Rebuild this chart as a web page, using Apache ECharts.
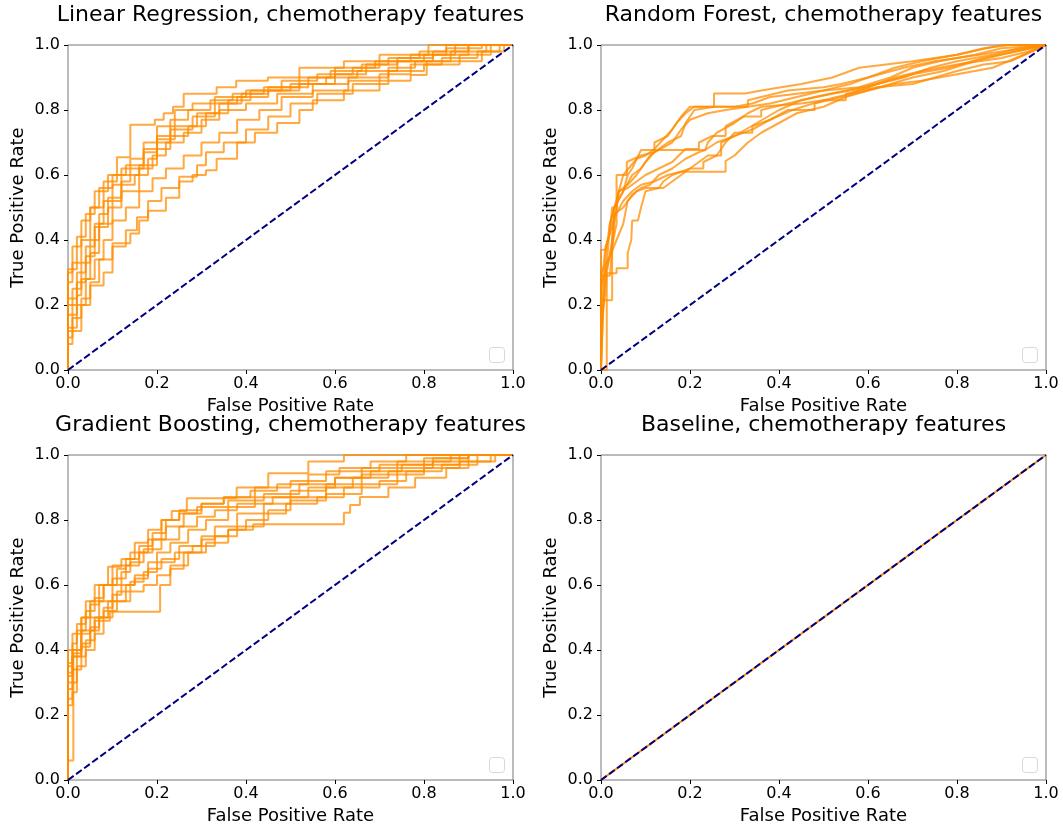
<!DOCTYPE html>
<html>
<head>
<meta charset="utf-8">
<script src="https://cdn.jsdelivr.net/npm/echarts@6/dist/echarts.min.js"></script>
<style>html,body{margin:0;padding:0;background:#fff}#c{width:1063px;height:830px}</style>
</head>
<body>
<div id="c"></div>
<script>
// ---------- DATA ----------
const panelTitles = [
  'Linear Regression, chemotherapy features',
  'Random Forest, chemotherapy features',
  'Gradient Boosting, chemotherapy features',
  'Baseline, chemotherapy features'
];
const xAxisTitle = 'False Positive Rate';
const yAxisTitle = 'True Positive Rate';
const tickValues = [0, 0.2, 0.4, 0.6, 0.8, 1.0];

// Linear Regression ROC curves (step: each point = end of a horizontal run at that TPR)
const lrCurves = [
  [[0,0],[0.02,0.31],[0.04,0.41],[0.06,0.48],[0.09,0.55],[0.11,0.6],[0.14,0.655],[0.195,0.755],[0.215,0.77],[0.236,0.79],[0.26,0.81],[0.334,0.85],[0.378,0.87],[0.449,0.89],[0.52,0.9],[0.62,0.93],[0.7,0.95],[0.81,0.97],[1,1]],
  [[0,0],[0.01,0.27],[0.03,0.33],[0.05,0.4],[0.08,0.5],[0.11,0.58],[0.13,0.6],[0.17,0.63],[0.2,0.68],[0.23,0.72],[0.27,0.77],[0.32,0.8],[0.37,0.83],[0.44,0.85],[0.54,0.87],[0.6,0.9],[0.69,0.93],[0.8,0.95],[0.87,0.97],[1,1]],
  [[0,0],[0.02,0.2],[0.04,0.27],[0.06,0.35],[0.09,0.44],[0.12,0.5],[0.16,0.55],[0.19,0.62],[0.22,0.66],[0.26,0.7],[0.3,0.73],[0.34,0.77],[0.4,0.8],[0.47,0.82],[0.55,0.85],[0.63,0.88],[0.72,0.9],[0.78,0.93],[0.86,0.95],[0.94,0.98],[1,1]],
  [[0,0],[0.01,0.08],[0.03,0.12],[0.05,0.2],[0.08,0.26],[0.1,0.3],[0.14,0.39],[0.16,0.42],[0.18,0.46],[0.22,0.49],[0.25,0.53],[0.28,0.58],[0.31,0.6],[0.334,0.615],[0.38,0.65],[0.42,0.7],[0.47,0.73],[0.52,0.76],[0.55,0.8],[0.62,0.83],[0.7,0.86],[0.77,0.89],[0.806,0.908],[0.93,0.95],[0.98,0.98],[1,1]],
  [[0,0],[0.02,0.17],[0.03,0.23],[0.05,0.28],[0.07,0.36],[0.1,0.45],[0.12,0.52],[0.15,0.57],[0.18,0.6],[0.2,0.65],[0.23,0.68],[0.27,0.72],[0.31,0.75],[0.36,0.79],[0.41,0.83],[0.5,0.86],[0.58,0.88],[0.65,0.9],[0.74,0.92],[0.82,0.95],[0.9,0.97],[1,1]],
  [[0,0],[0.01,0.1],[0.03,0.16],[0.05,0.22],[0.07,0.27],[0.1,0.34],[0.13,0.38],[0.155,0.43],[0.18,0.47],[0.21,0.52],[0.25,0.56],[0.29,0.595],[0.31,0.63],[0.35,0.67],[0.4,0.7],[0.45,0.74],[0.5,0.78],[0.56,0.82],[0.64,0.85],[0.72,0.88],[0.8,0.92],[0.88,0.94],[0.95,0.97],[1,1]],
  [[0,0],[0.02,0.22],[0.04,0.3],[0.06,0.38],[0.08,0.45],[0.1,0.52],[0.12,0.57],[0.16,0.6],[0.2,0.63],[0.23,0.7],[0.28,0.74],[0.33,0.78],[0.38,0.82],[0.45,0.84],[0.52,0.86],[0.6,0.88],[0.67,0.91],[0.74,0.94],[0.82,0.96],[0.9,0.98],[1,1]],
  [[0,0],[0.01,0.12],[0.03,0.25],[0.05,0.33],[0.07,0.4],[0.09,0.48],[0.12,0.53],[0.14,0.58],[0.17,0.62],[0.2,0.67],[0.24,0.71],[0.29,0.75],[0.34,0.79],[0.39,0.82],[0.45,0.85],[0.52,0.87],[0.59,0.9],[0.66,0.92],[0.72,0.94],[0.79,0.96],[0.85,0.98],[1,1]],
  [[0,0],[0.02,0.13],[0.04,0.2],[0.06,0.28],[0.08,0.34],[0.1,0.4],[0.13,0.46],[0.16,0.5],[0.19,0.55],[0.22,0.59],[0.26,0.62],[0.3,0.66],[0.34,0.7],[0.38,0.73],[0.43,0.77],[0.48,0.8],[0.55,0.84],[0.63,0.86],[0.7,0.89],[0.77,0.91],[0.84,0.94],[0.92,0.96],[0.97,0.98],[1,1]],
  [[0,0],[0.01,0.3],[0.03,0.38],[0.05,0.46],[0.07,0.5],[0.1,0.56],[0.12,0.6],[0.14,0.62],[0.17,0.65],[0.2,0.7],[0.24,0.75],[0.28,0.8],[0.33,0.82],[0.4,0.84],[0.48,0.86],[0.56,0.89],[0.64,0.91],[0.7,0.93],[0.77,0.95],[0.85,0.97],[0.93,0.99],[1,1]]
];

// Random Forest ROC curves (polyline vertices)
const rfCurves = [
  [[0,0],[0,0.3],[0.02,0.35],[0.035,0.45],[0.035,0.6],[0.058,0.6],[0.058,0.64],[0.09,0.66],[0.12,0.67],[0.12,0.7],[0.15,0.72],[0.17,0.76],[0.19,0.79],[0.21,0.81],[0.33,0.81],[0.33,0.83],[0.42,0.86],[0.5,0.87],[0.54,0.88],[0.6,0.9],[0.68,0.93],[0.75,0.95],[0.85,0.97],[0.95,0.99],[1,1]],
  [[0,0],[0.005,0.2],[0.01,0.35],[0.02,0.45],[0.03,0.5],[0.05,0.55],[0.07,0.6],[0.09,0.62],[0.11,0.66],[0.13,0.68],[0.15,0.7],[0.18,0.72],[0.19,0.76],[0.21,0.8],[0.254,0.81],[0.254,0.851],[0.324,0.851],[0.36,0.86],[0.45,0.88],[0.52,0.9],[0.58,0.93],[0.7,0.95],[0.8,0.97],[0.9,1],[1,1]],
  [[0,0],[0.013,0],[0.013,0.298],[0.035,0.298],[0.035,0.313],[0.06,0.313],[0.06,0.36],[0.068,0.4],[0.07,0.46],[0.083,0.46],[0.09,0.5],[0.1,0.55],[0.13,0.56],[0.14,0.58],[0.16,0.6],[0.2,0.62],[0.23,0.62],[0.23,0.64],[0.26,0.66],[0.28,0.7],[0.3,0.73],[0.34,0.73],[0.34,0.75],[0.38,0.77],[0.43,0.8],[0.5,0.83],[0.55,0.83],[0.55,0.85],[0.62,0.87],[0.7,0.88],[0.75,0.9],[0.8,0.92],[0.86,0.94],[0.92,0.95],[1,1]],
  [[0,0],[0,0.37],[0.01,0.37],[0.02,0.42],[0.025,0.5],[0.035,0.5],[0.04,0.55],[0.06,0.56],[0.08,0.58],[0.1,0.6],[0.13,0.62],[0.16,0.64],[0.19,0.68],[0.22,0.68],[0.22,0.7],[0.25,0.72],[0.28,0.72],[0.28,0.75],[0.32,0.78],[0.36,0.78],[0.36,0.8],[0.42,0.82],[0.48,0.84],[0.55,0.86],[0.62,0.88],[0.7,0.91],[0.78,0.93],[0.86,0.96],[0.93,0.98],[1,1]],
  [[0,0],[0,0.14],[0.01,0.24],[0.013,0.3],[0.025,0.4],[0.03,0.48],[0.05,0.5],[0.07,0.54],[0.09,0.56],[0.11,0.57],[0.13,0.6],[0.16,0.62],[0.19,0.65],[0.22,0.67],[0.234,0.677],[0.26,0.7],[0.3,0.72],[0.35,0.76],[0.4,0.8],[0.45,0.83],[0.52,0.85],[0.6,0.87],[0.66,0.9],[0.72,0.92],[0.8,0.94],[0.9,0.96],[0.96,0.98],[1,1]],
  [[0,0],[0,0.215],[0.025,0.215],[0.025,0.4],[0.03,0.5],[0.05,0.55],[0.06,0.6],[0.07,0.62],[0.09,0.677],[0.234,0.677],[0.24,0.7],[0.26,0.73],[0.3,0.76],[0.33,0.79],[0.36,0.81],[0.45,0.82],[0.5,0.83],[0.56,0.85],[0.62,0.88],[0.68,0.9],[0.74,0.93],[0.8,0.95],[0.88,0.97],[0.94,0.99],[1,1]],
  [[0,0],[0.004,0],[0.004,0.3],[0.01,0.38],[0.02,0.42],[0.03,0.47],[0.05,0.52],[0.07,0.55],[0.09,0.57],[0.12,0.58],[0.15,0.6],[0.18,0.61],[0.28,0.61],[0.28,0.643],[0.3,0.66],[0.33,0.7],[0.36,0.73],[0.4,0.76],[0.44,0.79],[0.5,0.81],[0.55,0.84],[0.6,0.86],[0.66,0.88],[0.72,0.89],[0.8,0.91],[0.88,0.93],[0.95,0.97],[1,1]],
  [[0,0],[0,0.26],[0.01,0.3],[0.015,0.36],[0.02,0.45],[0.03,0.5],[0.04,0.55],[0.06,0.57],[0.08,0.6],[0.1,0.64],[0.12,0.67],[0.16,0.7],[0.18,0.74],[0.2,0.77],[0.24,0.79],[0.28,0.8],[0.33,0.81],[0.38,0.82],[0.44,0.84],[0.5,0.86],[0.58,0.87],[0.65,0.9],[0.7,0.93],[0.76,0.95],[0.84,0.97],[0.9,0.99],[1,1]],
  [[0,0],[0.004,0.16],[0.01,0.3],[0.02,0.35],[0.035,0.4],[0.05,0.45],[0.06,0.52],[0.08,0.55],[0.1,0.56],[0.14,0.56],[0.16,0.58],[0.18,0.6],[0.21,0.63],[0.24,0.66],[0.27,0.66],[0.27,0.7],[0.3,0.72],[0.34,0.74],[0.38,0.77],[0.42,0.8],[0.48,0.8],[0.48,0.82],[0.54,0.84],[0.6,0.86],[0.65,0.88],[0.7,0.9],[0.77,0.92],[0.84,0.95],[0.9,0.97],[1,1]],
  [[0,0],[0,0.29],[0.02,0.29],[0.03,0.45],[0.04,0.55],[0.05,0.6],[0.08,0.65],[0.1,0.66],[0.12,0.68],[0.14,0.71],[0.16,0.74],[0.18,0.78],[0.2,0.81],[0.3,0.81],[0.34,0.82],[0.38,0.84],[0.44,0.85],[0.5,0.86],[0.56,0.88],[0.6,0.9],[0.66,0.93],[0.72,0.95],[0.8,0.97],[0.86,0.99],[0.92,1],[1,1]]
];

// Gradient Boosting ROC curves (step: each point = end of a horizontal run at that TPR)
const gbCurves = [
  [[0,0],[0.01,0.3],[0.02,0.38],[0.04,0.48],[0.06,0.55],[0.1,0.6],[0.14,0.66],[0.18,0.7],[0.21,0.74],[0.233,0.8],[0.267,0.828],[0.379,0.867],[0.45,0.9],[0.54,0.944],[0.62,0.98],[1,1]],
  [[0,0],[0.01,0.35],[0.03,0.4],[0.05,0.5],[0.08,0.55],[0.11,0.6],[0.13,0.65],[0.16,0.68],[0.19,0.72],[0.22,0.76],[0.25,0.8],[0.3,0.83],[0.35,0.85],[0.42,0.87],[0.5,0.9],[0.58,0.92],[0.7,0.95],[0.8,0.97],[0.9,0.99],[1,1]],
  [[0,0],[0.012,0.06],[0.03,0.39],[0.05,0.42],[0.07,0.47],[0.1,0.5],[0.13,0.55],[0.15,0.6],[0.18,0.63],[0.2,0.67],[0.23,0.7],[0.27,0.73],[0.31,0.77],[0.36,0.8],[0.42,0.84],[0.5,0.87],[0.58,0.89],[0.66,0.91],[0.74,0.94],[0.82,0.96],[0.9,0.98],[1,1]],
  [[0,0],[0.01,0.33],[0.03,0.4],[0.06,0.46],[0.094,0.49],[0.207,0.518],[0.23,0.6],[0.26,0.65],[0.3,0.7],[0.33,0.74],[0.38,0.78],[0.44,0.82],[0.5,0.85],[0.58,0.87],[0.64,0.9],[0.72,0.93],[0.8,0.95],[0.88,0.97],[1,1]],
  [[0,0],[0.01,0.25],[0.02,0.3],[0.04,0.38],[0.06,0.43],[0.08,0.5],[0.1,0.53],[0.12,0.57],[0.15,0.6],[0.18,0.62],[0.21,0.65],[0.25,0.68],[0.3,0.72],[0.36,0.75],[0.416,0.77],[0.62,0.787],[0.634,0.822],[0.656,0.846],[0.72,0.871],[0.78,0.9],[0.85,0.93],[0.9,0.96],[0.95,0.98],[1,1]],
  [[0,0],[0.01,0.36],[0.02,0.42],[0.04,0.46],[0.06,0.52],[0.08,0.56],[0.1,0.6],[0.13,0.62],[0.16,0.66],[0.19,0.7],[0.22,0.74],[0.26,0.78],[0.3,0.82],[0.35,0.85],[0.41,0.87],[0.47,0.89],[0.54,0.91],[0.61,0.94],[0.68,0.96],[0.76,0.98],[1,1]],
  [[0,0],[0.01,0.28],[0.03,0.34],[0.05,0.41],[0.07,0.46],[0.09,0.5],[0.11,0.55],[0.14,0.58],[0.17,0.61],[0.2,0.64],[0.24,0.67],[0.28,0.7],[0.33,0.72],[0.38,0.75],[0.44,0.78],[0.49,0.82],[0.56,0.85],[0.62,0.87],[0.7,0.9],[0.76,0.92],[0.84,0.95],[0.92,0.97],[1,1]],
  [[0,0],[0.01,0.4],[0.03,0.45],[0.05,0.5],[0.07,0.54],[0.09,0.6],[0.12,0.656],[0.15,0.68],[0.18,0.73],[0.21,0.77],[0.25,0.8],[0.29,0.82],[0.36,0.84],[0.44,0.86],[0.52,0.88],[0.6,0.91],[0.68,0.93],[0.75,0.95],[0.82,0.97],[0.9,0.99],[1,1]],
  [[0,0],[0.01,0.23],[0.02,0.27],[0.04,0.35],[0.06,0.4],[0.08,0.45],[0.11,0.52],[0.14,0.55],[0.17,0.58],[0.2,0.6],[0.23,0.63],[0.27,0.66],[0.31,0.7],[0.36,0.73],[0.4,0.77],[0.45,0.8],[0.5,0.83],[0.58,0.86],[0.66,0.88],[0.74,0.91],[0.8,0.94],[0.88,0.96],[0.96,0.98],[1,1]],
  [[0,0],[0.01,0.32],[0.03,0.38],[0.05,0.45],[0.07,0.5],[0.1,0.55],[0.12,0.6],[0.14,0.64],[0.17,0.67],[0.21,0.71],[0.25,0.74],[0.29,0.78],[0.33,0.81],[0.38,0.83],[0.46,0.85],[0.54,0.87],[0.6,0.9],[0.66,0.93],[0.74,0.96],[0.86,0.98],[1,1]]
];

// Baseline ROC curve (chance) and the reference diagonal
const baselineCurve = [[0,0],[1,1]];
const chanceLine = [[0,0],[1,1]];

// ---------- CHART ----------
const FONT = 'DejaVu Sans';
const W = 445, H = 325;
const panelPos = [[68,45],[601,45],[68,455],[601,455]];
const curveSets = [
  {curves: lrCurves, step: 'start'},
  {curves: rfCurves, step: false},
  {curves: gbCurves, step: 'start'},
  {curves: [baselineCurve], step: false}
];

const chart = echarts.init(document.getElementById('c'), null, {renderer: 'canvas'});

const grid = [], xAxis = [], yAxis = [], series = [], title = [], graphic = [];
panelPos.forEach(([l, t], i) => {
  grid.push({left: l, top: t, width: W, height: H, show: true, borderColor: '#777', borderWidth: 1, backgroundColor: 'transparent', containLabel: false});
  title.push({
    text: panelTitles[i], left: l + W / 2, top: t - 41, textAlign: 'center', padding: 0,
    textStyle: {fontFamily: FONT, fontSize: 22, fontWeight: 'normal', color: '#000'}
  });
  const axisCommon = {
    type: 'value', gridIndex: i, min: 0, max: 1, interval: 0.2,
    splitLine: {show: false},
    axisLine: {show: false},
    axisTick: {show: true, inside: false, length: 4, lineStyle: {color: '#000', width: 1}},
    axisLabel: {fontFamily: FONT, fontSize: 16, color: '#000', formatter: v => tickValues.includes(+v.toFixed(1)) ? v.toFixed(1) : ''},
    nameLocation: 'middle',
    nameTextStyle: {fontFamily: FONT, fontSize: 18, color: '#000'}
  };
  xAxis.push(Object.assign({}, axisCommon, {name: xAxisTitle, nameGap: 27, axisLabel: Object.assign({}, axisCommon.axisLabel, {margin: 6})}));
  yAxis.push(Object.assign({}, axisCommon, {name: yAxisTitle, nameGap: 41, axisLabel: Object.assign({}, axisCommon.axisLabel, {margin: 8})}));

  const set = curveSets[i];
  set.curves.forEach(c => {
    series.push({
      type: 'line', xAxisIndex: i, yAxisIndex: i, data: c,
      step: set.step, symbol: 'none', showSymbol: false, silent: true, animation: false,
      lineStyle: {color: '#ff8c00', width: 2, opacity: i === 3 ? 1 : 0.75},
      z: 2
    });
  });
  series.push({
    type: 'line', xAxisIndex: i, yAxisIndex: i, data: chanceLine,
    symbol: 'none', showSymbol: false, silent: true, animation: false,
    lineStyle: {color: '#000080', width: 2, type: [7, 3]},
    z: 3
  });
  // empty legend box (lower right)
  graphic.push({
    type: 'rect', left: l + W - 24, top: t + H - 23, z: 10,
    shape: {width: 15, height: 15, r: 3},
    style: {fill: '#fff', stroke: '#d8d8d8', lineWidth: 1}
  });
});

chart.setOption({
  animation: false,
  backgroundColor: '#fff',
  title, grid, xAxis, yAxis, series, graphic
});
</script>
</body>
</html>
